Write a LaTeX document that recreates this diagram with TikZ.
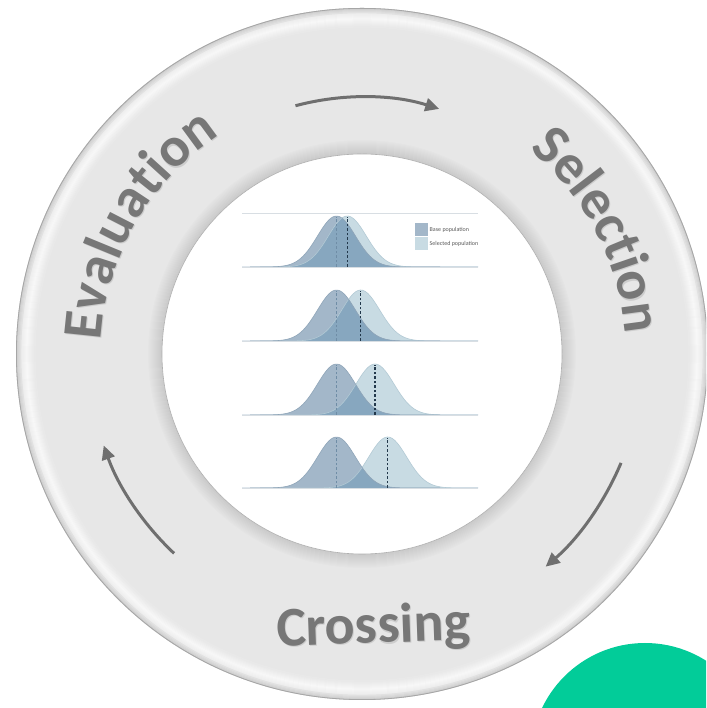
\documentclass[tikz,border=0pt]{standalone}
\usepackage{fontspec}
\setmainfont{Carlito}
\usetikzlibrary{arrows.meta,decorations.text,calc}

% palette
\definecolor{ringbody}{HTML}{E7E7E7}
\definecolor{ringdark}{HTML}{CACACA}
\definecolor{ringline}{HTML}{A6A6A6}
\definecolor{innerline}{HTML}{B0B0B0}
\definecolor{labelgray}{HTML}{777777}
\definecolor{labelshadow}{HTML}{CDCDCD}
\definecolor{arrowgray}{HTML}{6F6F6F}
\definecolor{basec}{HTML}{A3B7C9}
\definecolor{selc}{HTML}{C8DBE3}
\definecolor{overc}{HTML}{87A7BF}
\definecolor{baseedge}{HTML}{90A6B9}
\definecolor{seledge}{HTML}{B3CAD5}
\definecolor{basemean}{HTML}{6F8DA6}
\definecolor{selmean}{HTML}{22384B}
\definecolor{axisline}{HTML}{D8DEE3}
\definecolor{legendtext}{HTML}{5A5A5A}
\definecolor{mint}{HTML}{02CC99}

\newcommand\labelfont{\fontsize{56}{60}\selectfont\bfseries}
\newcommand\legendfont{\fontsize{6}{7}\selectfont}

\begin{document}
\begin{tikzpicture}[x=1pt,y=1pt,
  arc arrow/.style={draw=arrowgray, line width=3pt,
    -{Triangle[length=14pt,width=13pt]}},
  swatch/.style={minimum width=13pt, minimum height=13pt, inner sep=0pt},
  legend label/.style={anchor=west, inner sep=0pt, text=legendtext,
    font=\legendfont},
  step label/.style={font=\labelfont, rotate=2, anchor=base, inner sep=0pt},
  base mean/.style={draw=basemean, line width=1pt, dash pattern=on 2.5pt off 2pt},
  sel mean/.style={draw=selmean, line width=1.3pt, dash pattern=on 2.5pt off 2pt}]

\useasboundingbox (0,0) rectangle (706,708);
\clip (0,0) rectangle (706,708);
\fill[white] (0,0) rectangle (706,708);

\coordinate (C) at (362,354);

% ---- ring ----
\fill[ringbody] (C) circle (346);
% soft light band just inside the outer rim
\foreach \i [evaluate=\i as \p using {int(70-abs(\i-8)*8)}] in {0,...,16}
  \draw[white!\p!ringbody, line width=1.3pt] (C) circle (343-\i);
% rim shading at the outer edge
\foreach \i [evaluate=\i as \p using {int(100-\i*20)}] in {0,...,4}
  \draw[ringdark!\p!ringbody, line width=1.2pt] (C) circle (345.4-\i);
% bevel shadow along the inner edge
\foreach \i [evaluate=\i as \p using {int(100-\i*7)}] in {0,...,14}
  \draw[ringdark!\p!ringbody, line width=1.3pt] (C) circle (200.6+\i);
\fill[white] (C) circle (200);
\draw[ringline, line width=0.8pt] (C) circle (345.6);
\draw[innerline, line width=0.6pt] (C) circle (200);

% ---- cycle arrows ----
\coordinate (arTop)   at ($(C)+(105:257)$);
\coordinate (arRight) at ($(C)+(-22.8:281)$);
\coordinate (arLeft)  at ($(C)+(226.7:274)$);
\draw[arc arrow] (arTop)   arc[start angle=105,   end angle=72.5,  radius=257];
\draw[arc arrow] (arRight) arc[start angle=-22.8, end angle=-49.2, radius=281];
\draw[arc arrow] (arLeft)  arc[start angle=226.7, end angle=199.5, radius=274];

% ---- curved step labels (with a soft shadow) ----
\path[decorate, decoration={text along path, text align=center,
  text={|\labelfont\color{labelshadow}|Evaluation}}]
  ($(C)+(190:261)+(1,-1.3)$) arc[start angle=190, end angle=110, radius=261];
\path[decorate, decoration={text along path, text align=center,
  text={|\labelfont\color{labelgray}|Evaluation}}]
  ($(C)+(190:261)$) arc[start angle=190, end angle=110, radius=261];

\path[decorate, decoration={text along path, text align=center,
  text={|\labelfont\color{labelshadow}|Selection}}]
  ($(C)+(70:264)+(1,-1.3)$) arc[start angle=70, end angle=-15, radius=264];
\path[decorate, decoration={text along path, text align=center,
  text={|\labelfont\color{labelgray}|Selection}}]
  ($(C)+(70:264)$) arc[start angle=70, end angle=-15, radius=264];

\node[step label, text=labelshadow] (crossingshadow) at (375,63.7) {Crossing};
\node[step label, text=labelgray] (crossing) at (374,65) {Crossing};

% ---- distribution panels ----
\draw[axisline, line width=0.5pt] (242,495) -- (478,495);
\foreach \b/\m in {441/347.3, 367/360.7, 293/375, 220/387.7}{
  % selected population
  \fill[selc] (242,\b) -- plot[domain=242:478, samples=90, smooth]
    (\x,{\b+51*exp(-0.5*((\x-\m)/19)*((\x-\m)/19))}) -- (478,\b) -- cycle;
  % base population
  \fill[basec] (242,\b) -- plot[domain=242:478, samples=90, smooth]
    (\x,{\b+51*exp(-0.5*((\x-336.5)/19)*((\x-336.5)/19))}) -- (478,\b) -- cycle;
  % overlap of both
  \begin{scope}
    \clip (242,\b) -- plot[domain=242:478, samples=90, smooth]
      (\x,{\b+51*exp(-0.5*((\x-336.5)/19)*((\x-336.5)/19))}) -- (478,\b) -- cycle;
    \fill[overc] (242,\b) -- plot[domain=242:478, samples=90, smooth]
      (\x,{\b+51*exp(-0.5*((\x-\m)/19)*((\x-\m)/19))}) -- (478,\b) -- cycle;
  \end{scope}
  % outlines
  \draw[seledge, line width=0.6pt] plot[domain=260:478, samples=90, smooth]
    (\x,{\b+51*exp(-0.5*((\x-\m)/19)*((\x-\m)/19))});
  \draw[baseedge, line width=0.6pt] plot[domain=250:440, samples=90, smooth]
    (\x,{\b+51*exp(-0.5*((\x-336.5)/19)*((\x-336.5)/19))});
  % baseline
  \draw[axisline, line width=0.6pt] (242,\b) -- (478,\b);
  % means
  \draw[base mean] (336.5,\b) -- (336.5,\b+50);
  \draw[sel mean] (\m,\b) -- (\m,{\b+50});
}

% ---- legend ----
\node[swatch, fill=basec] (legbase) at (421.5,478) {};
\node[swatch, fill=selc]  (legsel)  at (421.5,464.5) {};
\node[legend label] (legbasetext) at (429.5,478) {Base population};
\node[legend label] (legseltext)  at (429.5,464.5) {Selected population};

% ---- corner disc ----
\fill[mint] (645,-49) circle (114);
\end{tikzpicture}
\end{document}
